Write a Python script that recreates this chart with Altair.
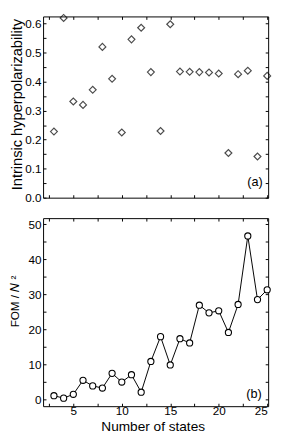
import altair as alt
import pandas as pd

n_states = list(range(3, 26))
intrinsic = [0.228, 0.620, 0.332, 0.320, 0.372, 0.520, 0.410, 0.225, 0.546, 0.586,
             0.433, 0.230, 0.598, 0.435, 0.434, 0.433, 0.432, 0.428, 0.154, 0.426,
             0.438, 0.142, 0.420]
fom = [1.0, 0.3, 1.4, 5.4, 3.8, 3.2, 7.4, 4.9, 7.0, 2.0, 10.8, 17.9, 9.8, 17.3, 16.1,
       26.9, 24.7, 25.3, 19.1, 27.1, 46.7, 28.5, 31.3]
panel_labels = ["(a)", "(b)"]

df = pd.DataFrame({"n": n_states, "beta": intrinsic, "fom": fom})
lab_a = pd.DataFrame({"x": [23.74], "y": [0.052], "t": [panel_labels[0]]})
lab_b = pd.DataFrame({"x": [23.64], "y": [1.5], "t": [panel_labels[1]]})

x_ticks = [2.5 * i for i in range(1, 11)]
ya_ticks = [round(0.05 * i, 2) for i in range(13)]
yb_ticks = [5 * i for i in range(11)]

xscale = alt.Scale(domain=[1.88, 25.1], nice=False, zero=False)
ya_scale = alt.Scale(domain=[0, 0.625], nice=False, zero=False)
yb_scale = alt.Scale(domain=[-2, 51.8], nice=False, zero=False)

TFONT = "Liberation Sans"
base = dict(tickSize=3, tickColor="black", tickWidth=1, domain=False, grid=False,
            offset=-3, labelFont="Liberation Sans", labelFontSize=12,
            labelColor="black", titleColor="black", titleFontWeight="normal")

x_lab_expr = "datum.value % 5 == 0 ? format(datum.value, 'd') : ''"
x_lab_align = {"condition": {"test": "datum.value >= 25", "value": "right"}, "value": "center"}

W, HA, HB = 231, 186, 193

# Panel (a)
pts_a = alt.Chart(df).mark_point(shape="diamond", filled=False, color="black",
                                 size=50, strokeWidth=1.2).encode(
    x=alt.X("n:Q", scale=xscale,
            axis=alt.Axis(values=x_ticks, labels=False, title=None, orient="bottom", **base)),
    y=alt.Y("beta:Q", scale=ya_scale,
            axis=alt.Axis(values=ya_ticks, title="Intrinsic hyperpolarizability",
                          labelExpr="round(datum.value*20) % 2 == 0 ? format(datum.value, '.1f') : ''",
                          orient="left", labelPadding=2,
                          titleX=-37, titleY=90, titleAngle=270,
                          titleBaseline="top", titleAlign="center",
                          titleFont=TFONT, titleFontSize=15, **base)),
)
mir_a = alt.Chart(df).mark_point(opacity=0).encode(
    x=alt.X("n:Q", scale=xscale,
            axis=alt.Axis(values=x_ticks, labels=False, title=None, orient="top", **base)),
    y=alt.Y("beta:Q", scale=ya_scale,
            axis=alt.Axis(values=ya_ticks, labels=False, title=None, orient="right", **base)),
)
txt_a = alt.Chart(lab_a).mark_text(font=TFONT, fontSize=13, color="black").encode(
    x=alt.X("x:Q", scale=xscale, axis=None),
    y=alt.Y("y:Q", scale=ya_scale, axis=None),
    text="t:N",
)
panel_a = alt.layer(pts_a, mir_a, txt_a).resolve_axis(
    x="independent", y="independent").properties(width=W, height=HA)

# Panel (b)
line_b = alt.Chart(df).mark_line(color="black", strokeWidth=1).encode(
    x=alt.X("n:Q", scale=xscale,
            axis=alt.Axis(values=x_ticks, labelExpr=x_lab_expr, labelAlign=x_lab_align,
                          title="Number of states",
                          titleFont=TFONT, titleFontSize=14,
                          titleX=W / 2 - 3, titleY=30.5, titleBaseline="bottom", titleAlign="center",
                          labelPadding=0, orient="bottom", **base)),
    y=alt.Y("fom:Q", scale=yb_scale,
            axis=alt.Axis(values=yb_ticks, title="FOM / 𝑁 ²",
                          titleFont=TFONT, titleFontSize=12,
                          titleX=-37, titleY=85, titleAngle=270,
                          titleBaseline="top", titleAlign="center",
                          labelExpr="datum.value % 10 == 0 ? datum.label : ''",
                          orient="left", labelPadding=2, **base)),
)
pts_b = alt.Chart(df).mark_point(shape="circle", filled=True, fill="white", stroke="black",
                                 size=40, strokeWidth=1.1, opacity=1).encode(
    x=alt.X("n:Q", scale=xscale, axis=None),
    y=alt.Y("fom:Q", scale=yb_scale, axis=None),
)
mir_b = alt.Chart(df).mark_point(opacity=0).encode(
    x=alt.X("n:Q", scale=xscale,
            axis=alt.Axis(values=x_ticks, labels=False, title=None, orient="top", **base)),
    y=alt.Y("fom:Q", scale=yb_scale,
            axis=alt.Axis(values=yb_ticks, labels=False, title=None, orient="right", **base)),
)
txt_b = alt.Chart(lab_b).mark_text(font=TFONT, fontSize=13, color="black").encode(
    x=alt.X("x:Q", scale=xscale, axis=None),
    y=alt.Y("y:Q", scale=yb_scale, axis=None),
    text="t:N",
)
panel_b = alt.layer(line_b, pts_b, mir_b, txt_b).resolve_axis(
    x="independent", y="independent").properties(width=W, height=HB)

chart = alt.vconcat(panel_a, panel_b, spacing=13).properties(
    padding={"left": 0, "top": -2, "right": 0, "bottom": 0},
    background="white",
).configure_view(stroke="black", strokeWidth=1)

chart.save("out.html", embed_options={"renderer": "svg", "actions": False})
